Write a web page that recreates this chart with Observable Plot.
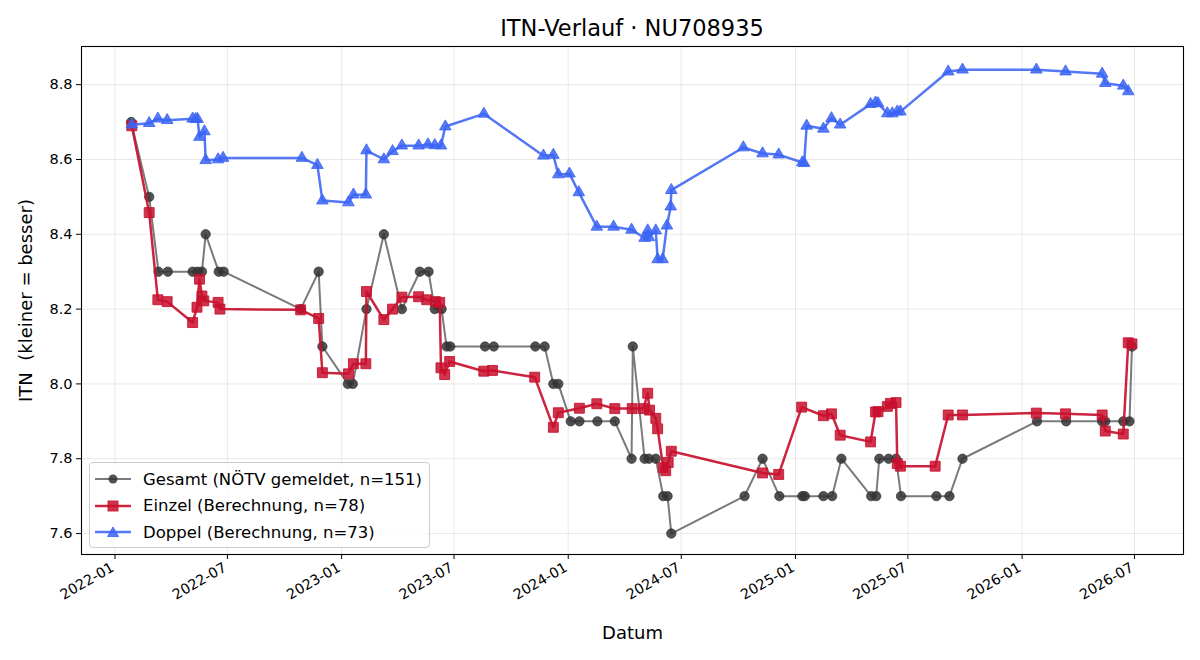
<!DOCTYPE html>
<html>
<head>
<meta charset="utf-8">
<script src="https://cdn.jsdelivr.net/npm/d3@7"></script>
<script src="https://cdn.jsdelivr.net/npm/@observablehq/plot@0.6"></script>
<style>
  body { margin: 0; background: #fff; font-family: "DejaVu Sans", sans-serif; }
  #fig { position: relative; width: 1200px; height: 660px; background: #fff; }
  #title { position: absolute; left: 81px; width: 1102px; top: 13px; line-height: 30px;
           text-align: center; font-size: 22.5px; color: #000; }
  #chart { position: absolute; left: 0; top: 40px; }
  #chart svg text { white-space: pre; }
  #legend { position: absolute; left: 89px; top: 462px; width: 339px; height: 84px;
            border: 1px solid #cccccc; border-radius: 4px; background: rgba(255,255,255,0.8);
            font-size: 16.5px; color: #000; }
  .row { position: absolute; left: 5px; height: 22px; display: flex; align-items: center; white-space: nowrap; }
  .row svg { width: 36px; height: 20px; margin-right: 12px; }
</style>
</head>
<body>
<div id="fig">
  <div id="title">ITN-Verlauf · NU708935</div>
  <div id="chart"></div>
  <div id="legend"></div>
</div>
<script>
// Gesamt: ITN reported by the federation
const gesamtDatum = ["2022-01-27","2022-02-25","2022-03-12","2022-03-27","2022-05-06","2022-05-14","2022-05-21","2022-05-27","2022-06-17","2022-06-25","2022-10-27","2022-11-25","2022-12-01","2023-01-11","2023-01-19","2023-02-10","2023-03-10","2023-04-08","2023-05-07","2023-05-21","2023-05-31","2023-06-11","2023-06-19","2023-06-25","2023-08-20","2023-09-03","2023-11-09","2023-11-24","2023-12-08","2023-12-16","2024-01-05","2024-01-19","2024-02-17","2024-03-16","2024-04-12","2024-04-14","2024-05-03","2024-05-10","2024-05-21","2024-06-02","2024-06-09","2024-06-15","2024-10-11","2024-11-09","2024-12-06","2025-01-12","2025-01-16","2025-02-15","2025-03-01","2025-03-16","2025-05-03","2025-05-11","2025-05-16","2025-05-31","2025-06-12","2025-06-20","2025-08-16","2025-09-06","2025-09-27","2026-01-25","2026-03-13","2026-05-10","2026-05-15","2026-06-13","2026-06-23","2026-06-27"];
const gesamtITN = [8.7,8.5,8.3,8.3,8.3,8.3,8.3,8.4,8.3,8.3,8.2,8.3,8.1,8.0,8.0,8.2,8.4,8.2,8.3,8.3,8.2,8.2,8.1,8.1,8.1,8.1,8.1,8.1,8.0,8.0,7.9,7.9,7.9,7.9,7.8,8.1,7.8,7.8,7.8,7.7,7.7,7.6,7.7,7.8,7.7,7.7,7.7,7.7,7.7,7.8,7.7,7.7,7.8,7.8,7.8,7.7,7.7,7.7,7.8,7.9,7.9,7.9,7.9,7.9,7.9,8.1];

// Einzel: computed singles ITN
const einzelDatum = ["2022-01-28","2022-02-25","2022-03-11","2022-03-26","2022-05-06","2022-05-13","2022-05-17","2022-05-21","2022-05-24","2022-06-16","2022-06-19","2022-10-27","2022-11-25","2022-12-01","2023-01-12","2023-01-20","2023-02-09","2023-02-10","2023-03-10","2023-03-24","2023-04-08","2023-05-05","2023-05-18","2023-06-01","2023-06-08","2023-06-10","2023-06-16","2023-06-24","2023-08-18","2023-09-01","2023-11-08","2023-12-08","2023-12-16","2024-01-19","2024-02-16","2024-03-16","2024-04-13","2024-05-01","2024-05-08","2024-05-11","2024-05-21","2024-05-24","2024-06-02","2024-06-06","2024-06-10","2024-06-15","2024-11-09","2024-12-05","2025-01-11","2025-02-15","2025-02-28","2025-03-14","2025-05-02","2025-05-10","2025-05-14","2025-05-29","2025-06-03","2025-06-12","2025-06-14","2025-06-19","2025-08-14","2025-09-04","2025-09-27","2026-01-24","2026-03-12","2026-05-10","2026-05-15","2026-06-13","2026-06-21","2026-06-27"];
const einzelITN = [8.69,8.458,8.225,8.22,8.164,8.205,8.28,8.235,8.222,8.218,8.2,8.198,8.175,8.03,8.027,8.054,8.054,8.247,8.172,8.2,8.232,8.233,8.225,8.22,8.218,8.043,8.025,8.06,8.034,8.036,8.018,7.884,7.923,7.935,7.947,7.934,7.934,7.934,7.975,7.93,7.908,7.88,7.776,7.768,7.79,7.82,7.762,7.758,7.938,7.915,7.92,7.863,7.845,7.925,7.926,7.94,7.948,7.95,7.787,7.78,7.78,7.917,7.917,7.922,7.92,7.917,7.874,7.866,8.11,8.107];

// Doppel: computed doubles ITN
const doppelDatum = ["2022-01-28","2022-02-25","2022-03-11","2022-03-26","2022-05-06","2022-05-11","2022-05-14","2022-05-17","2022-05-25","2022-05-27","2022-06-16","2022-06-24","2022-10-29","2022-11-23","2022-12-01","2023-01-12","2023-01-20","2023-02-09","2023-02-10","2023-03-10","2023-03-24","2023-04-08","2023-05-05","2023-05-20","2023-05-31","2023-06-10","2023-06-17","2023-08-18","2023-11-22","2023-12-08","2023-12-16","2024-01-03","2024-01-18","2024-02-16","2024-03-14","2024-04-12","2024-05-03","2024-05-08","2024-05-10","2024-05-21","2024-05-24","2024-06-01","2024-06-08","2024-06-14","2024-06-15","2024-10-09","2024-11-09","2024-12-05","2025-01-12","2025-01-15","2025-01-19","2025-02-15","2025-02-28","2025-03-14","2025-05-02","2025-05-10","2025-05-14","2025-05-29","2025-06-06","2025-06-14","2025-06-19","2025-09-04","2025-09-27","2026-01-24","2026-03-12","2026-05-10","2026-05-15","2026-06-13","2026-06-21"];
const doppelITN = [8.693,8.697,8.709,8.705,8.709,8.708,8.708,8.66,8.675,8.598,8.6,8.604,8.604,8.585,8.49,8.485,8.506,8.506,8.624,8.6,8.622,8.637,8.637,8.64,8.638,8.637,8.688,8.722,8.61,8.612,8.56,8.562,8.512,8.42,8.42,8.412,8.39,8.41,8.392,8.41,8.333,8.333,8.423,8.474,8.518,8.632,8.616,8.613,8.592,8.59,8.69,8.682,8.71,8.693,8.748,8.752,8.75,8.723,8.723,8.728,8.728,8.835,8.84,8.84,8.835,8.829,8.804,8.797,8.782];

const xTickLabels = ["2022-01","2022-07","2023-01","2023-07","2024-01","2024-07","2025-01","2025-07","2026-01","2026-07"];
const yTicks = [7.6, 7.8, 8.0, 8.2, 8.4, 8.6, 8.8];

const seriesLabels = ["Gesamt (NÖTV gemeldet, n=151)", "Einzel (Berechnung, n=78)", "Doppel (Berechnung, n=73)"];

const parseDay = d3.utcParse("%Y-%m-%d");
const parseMonth = d3.utcParse("%Y-%m");
const rows = (dates, values) => dates.map((d, i) => ({datum: parseDay(d), itn: values[i]}));
const gesamt = rows(gesamtDatum, gesamtITN);
const einzel = rows(einzelDatum, einzelITN);
const doppel = rows(doppelDatum, doppelITN);
const xTicks = xTickLabels.map(parseMonth);

const GRAY = "#333333", RED = "#c8102e", BLUE = "#3b64f4";

const chart = Plot.plot({
  width: 1200,
  height: 620,
  marginTop: 6,
  marginLeft: 81,
  marginRight: 17,
  marginBottom: 106,
  style: {fontFamily: "DejaVu Sans, sans-serif", fontSize: "14px", color: "#000", background: "transparent", overflow: "visible"},
  x: {type: "utc", domain: [parseDay("2021-11-08"), parseDay("2026-09-18")]},
  y: {domain: [7.544, 8.902]},
  marks: [
    Plot.gridX(xTicks, {stroke: "#b0b0b0", strokeOpacity: 0.35, strokeWidth: 0.8}),
    Plot.gridY(yTicks, {stroke: "#b0b0b0", strokeOpacity: 0.35, strokeWidth: 0.8}),
    Plot.axisY(yTicks, {tickSize: 5, tickPadding: 4, tickFormat: d3.format(".1f"), label: null, fontSize: 14.5}),
    Plot.axisX(xTicks, {tickSize: 5, fill: "none", label: null}),
    Plot.text(xTicks, {x: d => d, frameAnchor: "bottom", text: d3.utcFormat("%Y-%m"),
      rotate: -30, textAnchor: "end", lineAnchor: "top", dx: -5, dy: 7, fontSize: 14.2}),
    Plot.text(["Datum"], {frameAnchor: "bottom", text: d => d, lineAnchor: "middle", dy: 79, fontSize: 18}),
    Plot.text(["ITN  (kleiner = besser)"], {frameAnchor: "left", text: d => d, rotate: -90,
      textAnchor: "middle", lineAnchor: "middle", dx: -55, fontSize: 18}),

    // Gesamt
    Plot.line(gesamt, {x: "datum", y: "itn", stroke: GRAY, strokeOpacity: 0.65, strokeWidth: 2}),
    Plot.dot(gesamt, {x: "datum", y: "itn", symbol: "circle", r: 4.7, fill: GRAY, fillOpacity: 0.85, stroke: GRAY, strokeOpacity: 0.85, strokeWidth: 0.8}),
    // Einzel
    Plot.line(einzel, {x: "datum", y: "itn", stroke: RED, strokeOpacity: 0.92, strokeWidth: 2.5}),
    Plot.dot(einzel, {x: "datum", y: "itn", symbol: "square", r: 5.6, fill: RED, fillOpacity: 0.85, stroke: RED, strokeOpacity: 0.85, strokeWidth: 1}),
    // Doppel
    Plot.line(doppel, {x: "datum", y: "itn", stroke: BLUE, strokeOpacity: 0.88, strokeWidth: 2.5}),
    Plot.dot(doppel, {x: "datum", y: "itn", symbol: "triangle", r: 4.3, fill: BLUE, fillOpacity: 0.85, stroke: BLUE, strokeOpacity: 0.85, strokeWidth: 1}),

    Plot.frame({stroke: "#000", strokeWidth: 1.1})
  ]
});
document.getElementById("chart").appendChild(chart);

// Legend: line swatch with the series marker, then the label
const legend = document.getElementById("legend");
const swatches = [
  `<line x1="0" x2="36" y1="10" y2="10" stroke="${GRAY}" stroke-opacity="0.65" stroke-width="2"/><circle cx="18" cy="10" r="4.5" fill="${GRAY}" fill-opacity="0.85"/>`,
  `<line x1="0" x2="36" y1="10" y2="10" stroke="${RED}" stroke-opacity="0.92" stroke-width="2.5"/><rect x="13" y="5" width="10" height="10" fill="${RED}" fill-opacity="0.85" stroke="${RED}" stroke-opacity="0.85"/>`,
  `<line x1="0" x2="36" y1="10" y2="10" stroke="${BLUE}" stroke-opacity="0.88" stroke-width="2.5"/><path d="M18,5 L23.5,14.5 L12.5,14.5 Z" fill="${BLUE}" fill-opacity="0.85" stroke="${BLUE}" stroke-opacity="0.85"/>`
];
seriesLabels.forEach((label, i) => {
  const row = document.createElement("div");
  row.className = "row";
  row.style.top = (5 + i * 26.5) + "px";
  row.innerHTML = `<svg viewBox="0 0 36 20">${swatches[i]}</svg><span>${label}</span>`;
  legend.appendChild(row);
});
</script>
</body>
</html>
